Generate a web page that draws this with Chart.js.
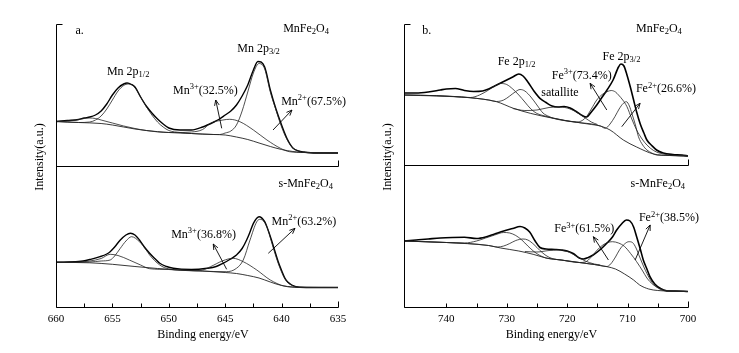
<!DOCTYPE html>
<html>
<head>
<script src="https://cdn.jsdelivr.net/npm/chart.js@4.4.0/dist/chart.umd.min.js"></script>
<style>
  body { margin: 0; background: #fff; }
  .panel { position: absolute; top: 0; height: 353px; }
  #wrapA { left: 0; width: 370px; }
  #wrapB { left: 370px; width: 369px; }
</style>
</head>
<body>
<div class="panel" id="wrapA"><canvas id="mnChart" width="370" height="353"></canvas></div>
<div class="panel" id="wrapB"><canvas id="feChart" width="369" height="353"></canvas></div>
<script>
// ---- a. Mn 2p, upper trace MnFe2O4 (binding energy eV / intensity a.u.)
const mnTopRawE = [660,659,658,657.5,657,656.5,656,655.5,655,654.5,654,653.7,653.3,653,652.5,652,651.5,651,650.5,650,649,648,647,646,645.5,645,644.5,644,643.5,643,642.5,642.1,641.5,641,640.5,640,639.5,639,638.5,638,637,636,635];
const mnTopRaw = [185.5,186.5,187.5,189,190,192,196,203,212,219,223,224,222.5,220,210,201,194,188,183,179,177,177,180,185,188,192,196,202,211,222,237,245.5,240,217,198,182,168,159,156,155,154,154,154];
const mnTopBgE = [660,658,656,655,654,653,652,650,648,646,645,644,643,642,641,640,639,638,636,635];
const mnTopBg = [185.5,184.5,183.5,182,180,178,176.5,174.5,173.5,172.5,172,170,167.5,164,160.5,157.5,155.5,154.5,154,154];
const mnTopMn3E = [660,658.5,657.5,657,656.5,656,655,654,653,652,650,649.5,648,647,646.3,645.2,644.6,643.7,642.5,641.3,640.1,639.3,638,635];
const mnTopMn3 = [185.5,186.5,188.5,189,188.5,187,184,181,178.5,176.5,174.5,174.5,175,177.5,183.7,187,187.7,185.3,177,167,158.7,155.3,154.5,154];
const mnTopMn2E = [660,658,657,656.5,656,655.5,655,654.5,654,653.6,653,652.5,652,651.5,651,650.5,650,649,648,646,645.5,645,644.5,644,643.5,643,642.5,642,641.5,641,640.5,640,639.5,639,638.5,638,635];
const mnTopMn2 = [185.5,184.5,185,187,191,198,207,216,221.5,223,219.5,210,200.5,192,185,180,176.5,174.5,173.5,172.5,172.5,174,176,182,196,215,234,243.5,238,215,197,180,167,159,156,154.5,154];

// ---- a. Mn 2p, lower trace s-MnFe2O4
const mnBotRawE = [660,658,657.6,657,656.1,655.5,655.2,654.8,654.3,653.8,653.4,653,652.6,652.2,651.7,651.2,650.8,650.2,649.6,648,646.6,645.8,645.2,644.6,644,643.5,643.1,642.8,642.5,642,641.5,641.2,640.9,640.6,640.3,640,639.7,639.4,639.1,638.4,637,635];
const mnBotRaw = [44.7,45.5,46,47.5,50.3,53,55.3,60,67,72,73.7,72,67,60.5,53.7,48,43.7,40.5,38.7,37.5,38.7,40.5,43.7,47.5,52,58.5,67,75,83.7,90.3,85.3,77,67,56,45.3,36.5,28.7,24.5,22,19.7,19.5,19.5];
const mnBotBgE = [660,657,655,653,651,649,647,645,644,643,642,641,640,639,638,635];
const mnBotBg = [44.7,44.2,42.7,40.5,38.5,37,36,34.5,33.5,31.5,29,25,21.5,20,19.5,19.5];
const mnBotMn3E = [660,658,657,656,655.2,654.5,653.5,652.5,651.7,650,648,647,646.3,645.2,644.3,643.4,642.2,641,639.8,638.5,635];
const mnBotMn3 = [44.7,45,46,48.5,52.7,51.5,47,42,38.3,37.5,36.2,37,40.3,46.3,48.7,45.3,37,27,21,19.7,19.5];
const mnBotMn2E = [660,657,656,655.2,654.8,654.3,653.8,653.3,652.6,652,651.7,650.8,650,649,646,644.9,644,643.4,642.8,642.2,641.9,641.3,640.9,640.3,639.7,639.1,638.5,635];
const mnBotMn2 = [44.7,45,46,47,51,58.7,66,70.3,65.3,57,52,42,38,37,35.5,35.3,38.7,47,67,85.3,87.7,80.3,65.3,43.7,28,21.7,19.7,19.5];

// ---- b. Fe 2p, upper trace MnFe2O4
const feTopRawE = [747,745,743,741,740,738.5,737,735.5,734,733,732,731,730,729,728,727.3,726.5,725.5,724.5,723.5,722.5,721.5,720.5,719.5,718.5,717.5,716.8,716,715.1,714.2,713.4,712.4,711.5,711.1,710.6,710.1,709.5,709,708.5,707.9,707.3,706.8,706,705.2,704.1,702.5,701,700];
const feTopRaw = [214,214,215,217,218,218.5,216.5,215.5,216,218,221,224,227,230,233,231,225,216,208.7,204.5,201,200,200.5,199,195.5,191.5,190,195,202,210,217,227,240,243,241,232,219,207,195,183,174,167,161.5,157,154,152.5,152,151];
const feTopBgE = [747,741.6,736.1,731.7,728.9,726.1,722.3,718.4,715.1,712.9,710.7,708.5,705.7,703,700];
const feTopBg = [212,211.3,209.3,205.3,198.7,193.7,188.7,184.7,182,177,167,160,153,151.5,151];
const feTopFe3E = [747,741.6,737.5,736,734.5,733,732,731,730,729,728,727,726,725,724,722.3,718.4,717.5,716.8,716,715.1,714.2,713.4,712.7,712,711.5,710.8,710.1,709.3,708.5,707.6,706.8,705.7,704.6,702,700];
const feTopFe3 = [212,211.3,210,209.5,212,217,221,223.5,222.5,218,212,205,198,193.5,191.5,189,185,186.5,190.3,198,207,212.5,215.3,216.5,215,212,207,200.3,188,177,168,162,156.5,153.7,151.5,151];
const feTopFe2E = [747,736.1,733,731.7,730.5,729.5,728.5,727.8,727,726,725,724,723,722.3,718.4,716,714.5,713.7,712.9,712.1,711.4,710.7,710.2,709.7,709.3,708.7,708.2,707.5,706.8,706,705.2,703,700];
const feTopFe2 = [212,209.3,207,205.5,207,211,215.5,217.5,216,210,202,194,190.5,188.7,184.7,182.5,181,178.7,183,190.3,198,203.7,205.3,201,193.7,182,170.3,162,157,154,152,151.5,151];
const feTopSatE = [729,727,725,723,721.5,720,718.5,717,716,715];
const feTopSat = [198.5,196.5,197,199.5,200,199,195,189,185,182.5];

// ---- b. Fe 2p, lower trace s-MnFe2O4
const feBotRawE = [747,745,743,741,739,737,735,733.5,732,730.5,729,727.8,727,726.2,725.3,724.5,723.5,722,721,720,719,718,717.3,716.5,715.7,714.5,713.4,712.5,711.8,711,710.2,709.6,709,708.5,707.9,707.4,706.8,706.3,705.5,704.6,703.5,702,700];
const feBotRaw = [66,67,68,69,69.5,69.7,68.5,70,73,76,78.5,80.5,79,75,66,59.5,58,57.5,57,56,53.5,49,48,49.5,52,57.5,64,70,77,83,87,86,80,70.3,58,47,38,30.3,23,18.7,16,16,15.5];
const feBotBgE = [747,740,736.5,733,731,728,725.5,723.5,721,718,715.5,713.4,712,710.5,709,708,706.5,705,700];
const feBotBg = [66,64.5,63.5,61.5,59,56,52.5,49,47,44.5,42.5,40.3,38,33,27,22,18,16.5,15.5];
const feBotFe3E = [747,740,737,735,733.5,732,730.5,729.5,728.5,727.5,726.5,725.5,724.5,723.5,721,718,717,716,715.1,714.2,713.3,712.5,711.5,710.5,709.5,708.5,707.5,706.8,705.8,705,703.5,700];
const feBotFe3 = [66,64.5,64,66,69,72,74.5,74,71.5,67,61,55.5,51.5,49,47,44.5,45,50,56.5,61.5,64.5,65.3,64,60.5,53.5,45.3,36,29,22.5,19.5,16.5,15.5];
const feBotFe2E = [747,740,733,731.5,730.5,729.5,728.5,727.3,726.5,725.5,724.5,723.5,722.5,721,718,715.5,713.4,712.8,712,711.3,710.5,709.8,709.2,708.6,708,707.3,706.8,706,705.2,704,700];
const feBotFe2 = [66,64.5,61.5,60,61,63.5,66.5,68,67,62.5,56.5,51.5,48.5,47,44.5,42.5,40.5,43,50,57.5,63,65.3,64.5,59,50,40,33.5,25,20,16.5,15.5];
const feBotSatE = [727,725,723,721.5,720,718.5,717,715.5,714.5];
const feBotSat = [55.5,55,56.5,57,55.5,51,46,43,42];

const FONT = '"Liberation Serif", "Times New Roman", serif';

function pts(E, I) { return E.map((e, i) => ({ x: e, y: I[i] })); }
function curve(E, I, w, color) {
  return {
    data: pts(E, I), borderColor: color, borderWidth: w, pointRadius: 0,
    showLine: true, fill: false, cubicInterpolationMode: 'monotone'
  };
}

// draws text made of normal / superscript / subscript pieces
function richText(ctx, x, y, parts, align) {
  const big = 12, small = 8.5;
  let w = 0;
  parts.forEach(p => {
    ctx.font = (p[1] === 'n' ? big : small) + 'px ' + FONT;
    w += ctx.measureText(p[0]).width;
  });
  let cx = align === 'right' ? x - w : (align === 'center' ? x - w / 2 : x);
  ctx.textAlign = 'left';
  ctx.textBaseline = 'middle';
  parts.forEach(p => {
    ctx.font = (p[1] === 'n' ? big : small) + 'px ' + FONT;
    const dy = p[1] === 'sup' ? -4 : (p[1] === 'sub' ? 3 : 0);
    ctx.fillText(p[0], cx, y + dy);
    cx += ctx.measureText(p[0]).width;
  });
}

function arrow(ctx, x1, y1, x2, y2) {
  const a = Math.atan2(y2 - y1, x2 - x1), h = 6, s = 0.4;
  ctx.beginPath();
  ctx.moveTo(x1, y1); ctx.lineTo(x2, y2);
  ctx.moveTo(x2 - h * Math.cos(a - s), y2 - h * Math.sin(a - s));
  ctx.lineTo(x2, y2);
  ctx.lineTo(x2 - h * Math.cos(a + s), y2 - h * Math.sin(a + s));
  ctx.stroke();
}

const decor = {
  id: 'decor',
  afterDraw(chart, args, opts) {
    const ctx = chart.ctx, ca = chart.chartArea, xs = chart.scales.x, ys = chart.scales.y;
    const L = Math.round(ca.left) + 0.5, R = Math.round(ca.right) + 0.5;
    const T = Math.round(ca.top) + 0.5, B = Math.round(ca.bottom) + 0.5;
    ctx.save();
    ctx.strokeStyle = '#000';
    ctx.fillStyle = '#000';
    ctx.lineWidth = 1;
    ctx.beginPath();
    ctx.moveTo(L + 6, T); ctx.lineTo(L, T); ctx.lineTo(L, B); ctx.lineTo(R, B);
    const M = Math.round(ys.getPixelForValue(opts.midV)) + 0.5;
    ctx.moveTo(L, M); ctx.lineTo(R, M); ctx.lineTo(R, M - 6);
    xs.ticks.forEach(t => {
      const px = Math.round(xs.getPixelForValue(t.value)) + 0.5;
      ctx.moveTo(px, B); ctx.lineTo(px, B - (t.value === xs.min ? 6 : 4));
    });
    ctx.stroke();

    opts.labels.forEach(l => {
      richText(ctx, xs.getPixelForValue(l.e), ys.getPixelForValue(l.v), l.parts, l.align);
    });
    ctx.lineWidth = 0.9;
    opts.arrows.forEach(a => {
      arrow(ctx, xs.getPixelForValue(a[0]), ys.getPixelForValue(a[1]),
                 xs.getPixelForValue(a[2]), ys.getPixelForValue(a[3]));
    });

    ctx.font = '12px ' + FONT;
    ctx.textAlign = 'center';
    ctx.textBaseline = 'middle';
    ctx.fillText('Binding energy/eV', opts.xTitleX, 335);
    ctx.translate(opts.yTitleX, 157);
    ctx.rotate(-Math.PI / 2);
    ctx.fillText('Intensity(a.u.)', 0, 0);
    ctx.restore();
  }
};

function makeChart(id, sets, xmin, xmax, step, labelEvery, pad, deco) {
  return new Chart(document.getElementById(id), {
    type: 'scatter',
    data: { datasets: sets },
    options: {
      responsive: false,
      animation: false,
      layout: { padding: { left: pad[0], right: pad[1], top: 24, bottom: 0 } },
      plugins: { legend: { display: false }, tooltip: { enabled: false }, decor: deco },
      scales: {
        x: {
          type: 'linear', reverse: true, min: xmin, max: xmax,
          grid: { display: false, drawTicks: false }, border: { display: false },
          afterFit: s => { s.height = 46; },
          ticks: {
            stepSize: step, autoSkip: false, maxRotation: 0, padding: 6, color: '#000',
            font: { family: FONT, size: 11 },
            callback: v => (v % labelEvery === 0 ? v : '')
          }
        },
        y: { display: false, min: 0, max: 283 }
      }
    },
    plugins: [decor]
  });
}

const CMP = '#222', RAW = '#000';
makeChart('mnChart', [
  curve(mnTopBgE, mnTopBg, 0.9, CMP),
  curve(mnTopMn3E, mnTopMn3, 0.8, CMP),
  curve(mnTopMn2E, mnTopMn2, 0.8, CMP),
  curve(mnTopRawE, mnTopRaw, 1.4, RAW),
  curve(mnBotBgE, mnBotBg, 0.9, CMP),
  curve(mnBotMn3E, mnBotMn3, 0.8, CMP),
  curve(mnBotMn2E, mnBotMn2, 0.8, CMP),
  curve(mnBotRawE, mnBotRaw, 1.4, RAW)
], 635, 660, 2.5, 5, [56, 32], {
  midV: 141, xTitleX: 203, yTitleX: 40,
  labels: [
    { e: 657.9, v: 276, parts: [['a.', 'n']], align: 'center' },
    { e: 635.8, v: 278, parts: [['MnFe', 'n'], ['2', 'sub'], ['O', 'n'], ['4', 'sub']], align: 'right' },
    { e: 653.6, v: 235, parts: [['Mn 2p', 'n'], ['1/2', 'sub']], align: 'center' },
    { e: 642.05, v: 258, parts: [['Mn 2p', 'n'], ['3/2', 'sub']], align: 'center' },
    { e: 646.75, v: 216, parts: [['Mn', 'n'], ['3+', 'sup'], ['(32.5%)', 'n']], align: 'center' },
    { e: 637.17, v: 205.3, parts: [['Mn', 'n'], ['2+', 'sup'], ['(67.5%)', 'n']], align: 'center' },
    { e: 635.44, v: 123, parts: [['s-MnFe', 'n'], ['2', 'sub'], ['O', 'n'], ['4', 'sub']], align: 'right' },
    { e: 646.92, v: 72, parts: [['Mn', 'n'], ['3+', 'sup'], ['(36.8%)', 'n']], align: 'center' },
    { e: 638.03, v: 85.3, parts: [['Mn', 'n'], ['2+', 'sup'], ['(63.2%)', 'n']], align: 'center' }
  ],
  arrows: [
    [645.31, 178.7, 645.84, 207], [640.76, 177, 639.08, 197],
    [644.87, 37.7, 646.06, 63], [641.18, 53.7, 638.81, 78.7]
  ]
});

makeChart('feChart', [
  curve(feTopBgE, feTopBg, 0.9, CMP),
  curve(feTopFe3E, feTopFe3, 0.8, CMP),
  curve(feTopFe2E, feTopFe2, 0.8, CMP),
  curve(feTopSatE, feTopSat, 0.8, CMP),
  curve(feTopRawE, feTopRaw, 1.6, RAW),
  curve(feBotBgE, feBotBg, 0.9, CMP),
  curve(feBotFe3E, feBotFe3, 0.8, CMP),
  curve(feBotFe2E, feBotFe2, 0.8, CMP),
  curve(feBotSatE, feBotSat, 0.8, CMP),
  curve(feBotRawE, feBotRaw, 1.6, RAW)
], 700, 747, 5, 10, [34, 51], {
  midV: 142, xTitleX: 181.5, yTitleX: 18,
  labels: [
    { e: 743.24, v: 276, parts: [['b.', 'n']], align: 'center' },
    { e: 701.02, v: 278, parts: [['MnFe', 'n'], ['2', 'sub'], ['O', 'n'], ['4', 'sub']], align: 'right' },
    { e: 728.37, v: 245, parts: [['Fe 2p', 'n'], ['1/2', 'sub']], align: 'center' },
    { e: 711.0, v: 250, parts: [['Fe 2p', 'n'], ['3/2', 'sub']], align: 'center' },
    { e: 717.58, v: 231.3, parts: [['Fe', 'n'], ['3+', 'sup'], ['(73.4%)', 'n']], align: 'center' },
    { e: 721.2, v: 214.3, parts: [['satallite', 'n']], align: 'center' },
    { e: 703.65, v: 217.7, parts: [['Fe', 'n'], ['2+', 'sup'], ['(26.6%)', 'n']], align: 'center' },
    { e: 700.48, v: 123, parts: [['s-MnFe', 'n'], ['2', 'sub'], ['O', 'n'], ['4', 'sub']], align: 'right' },
    { e: 717.17, v: 77.7, parts: [['Fe', 'n'], ['3+', 'sup'], ['(61.5%)', 'n']], align: 'center' },
    { e: 703.16, v: 88.7, parts: [['Fe', 'n'], ['2+', 'sup'], ['(38.5%)', 'n']], align: 'center' }
  ],
  arrows: [
    [713.44, 197, 716.2, 223.7], [710.96, 180.3, 707.93, 203.7],
    [713.17, 47, 715.66, 70.3], [708.75, 47, 706.26, 82]
  ]
});
</script>
</body>
</html>
